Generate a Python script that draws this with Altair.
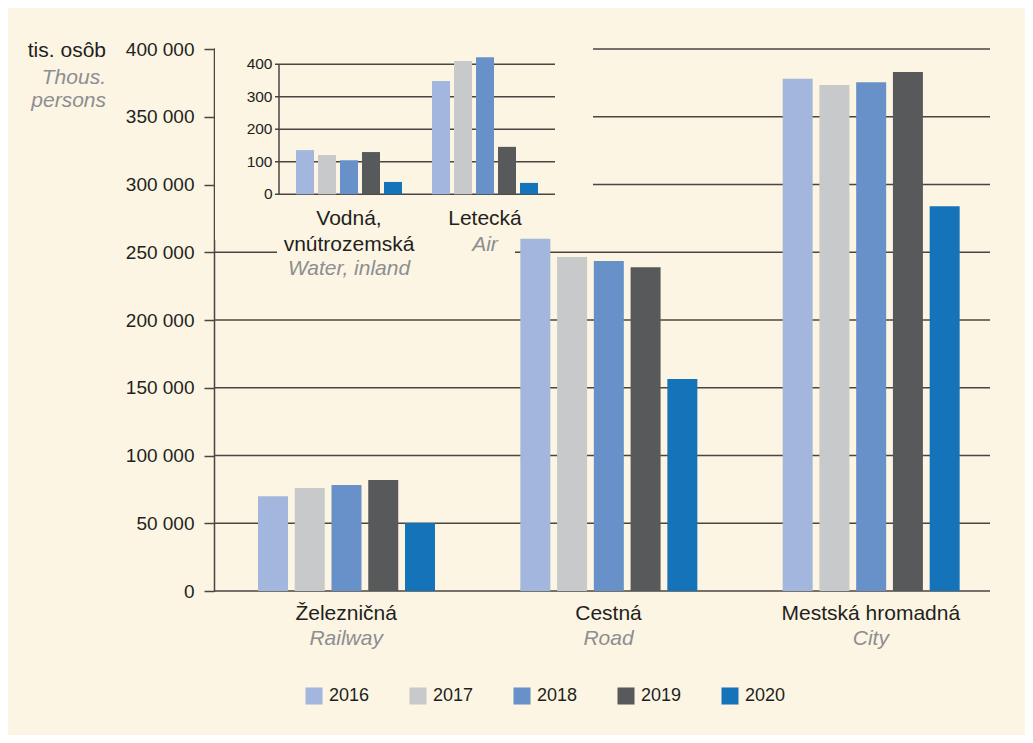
import altair as alt
import pandas as pd

BG = "#fcf5e3"
DARK = "#231f20"
GRAY = "#8c8e91"
GRID = "#4a4540"
FONT = "Liberation Sans"
LBL = 21

# ---- data ----
categories = ["Železničná", "Cestná", "Mestská hromadná"]
categories_en = ["Railway", "Road", "City"]
years = ["2016", "2017", "2018", "2019", "2020"]
railway = [70000, 76000, 78200, 82000, 50200]
road = [260000, 246500, 243500, 239000, 156500]
city = [378000, 373500, 375500, 383000, 284000]
main_ticks = [0, 50000, 100000, 150000, 200000, 250000, 300000, 350000, 400000]

inset_categories = ["Vodná,\nvnútrozemská", "Letecká"]
inset_categories_en = ["Water, inland", "Air"]
water = [136, 121, 105, 130, 38]
air = [349, 410, 422, 146, 35]
inset_ticks = [0, 100, 200, 300, 400]

colors = ["#a3b6dd", "#c8c9ca", "#6890c9", "#58595b", "#1473b9"]

# ---- tables ----
main_df = pd.DataFrame(
    [{"cat": c, "year": y, "value": v}
     for c, vals in zip(categories, [railway, road, city])
     for y, v in zip(years, vals)]
)
main_lab = pd.DataFrame({"cat": categories, "en": categories_en})
main_tick_df = pd.DataFrame({"v": main_ticks})
inset_df = pd.DataFrame(
    [{"cat": c, "year": y, "value": v}
     for c, vals in zip(inset_categories, [water, air])
     for y, v in zip(years, vals)]
)
inset_lab = pd.DataFrame({"cat": inset_categories, "en": inset_categories_en})
inset_tick_df = pd.DataFrame({"v": inset_ticks})
inset_axis_df = pd.DataFrame({"a": [inset_ticks[0]], "b": [inset_ticks[-1]]})
one = alt.Data(values=[{"k": 1}])

color_enc = alt.Color(
    "year:N",
    scale=alt.Scale(domain=years, range=colors),
    legend=alt.Legend(
        title=None, orient="none", legendX=91, legendY=638, direction="horizontal",
        columns=5, symbolType="square", symbolSize=290, symbolStrokeWidth=0,
        labelFontSize=18, labelColor=DARK, labelOffset=6, columnPadding=39,
        padding=0, labelFont=FONT,
    ),
)

# ---- main chart ----
mx = alt.Scale(domain=categories, range=[1, 788], paddingInner=0, paddingOuter=0)
my = alt.Scale(domain=[0, 400000], nice=False)

main_grid = alt.Chart(main_tick_df).mark_rule(color=GRID, strokeWidth=1.6).encode(
    y=alt.Y("v:Q", scale=my), x=alt.value(0), x2=alt.value(776)
)
cover1 = alt.Chart(one).mark_rect(color=BG).encode(
    x=alt.value(1), x2=alt.value(379), y=alt.value(-14), y2=alt.value(191)
)
cover2 = alt.Chart(one).mark_rect(color=BG).encode(
    x=alt.value(63), x2=alt.value(301), y=alt.value(191), y2=alt.value(212)
)

main_bars = alt.Chart(main_df).mark_bar().encode(
    x=alt.X("cat:N", sort=categories, scale=mx,
            axis=alt.Axis(title=None, labelFontSize=LBL, labelColor=DARK, ticks=False,
                          domain=False, labelPadding=28, labelAngle=0,
                          labelBaseline="alphabetic", labelFont=FONT)),
    xOffset=alt.XOffset("year:N", sort=years,
                        scale=alt.Scale(domain=years, range=[43, 220],
                                        paddingInner=0.184, paddingOuter=0)),
    y=alt.Y("value:Q", scale=my,
            axis=alt.Axis(values=main_ticks, title=None, grid=False,
                          domainColor=GRID, domainWidth=1.5,
                          tickColor=GRID, tickWidth=1.5, tickSize=10, labelPadding=10,
                          labelFontSize=19, labelColor=DARK, labelFont=FONT,
                          labelExpr="replace(format(datum.value, ','), ',', ' ')")),
    color=color_enc,
)

main_en = alt.Chart(main_lab).mark_text(
    fontSize=LBL, fontStyle="italic", color=GRAY, baseline="alphabetic", font=FONT
).encode(
    x=alt.X("cat:N", sort=categories, scale=mx),
    y=alt.value(596),
    text="en:N",
)

ytitle = alt.Chart(one).mark_text(
    text="tis. osôb", fontSize=LBL, color=DARK, align="right", baseline="alphabetic", font=FONT
).encode(x=alt.value(-108), y=alt.value(7.5))
ytitle_en = alt.Chart(one).mark_text(
    text="Thous.\npersons", lineBreak="\n", lineHeight=22.5, fontSize=LBL, fontStyle="italic",
    color=GRAY, align="right", baseline="alphabetic", font=FONT
).encode(x=alt.value(-108), y=alt.value(35.3))

main = alt.layer(main_grid, cover1, cover2, main_bars, main_en, ytitle, ytitle_en)

# ---- inset chart ----
ix = alt.Scale(domain=inset_categories, range=[67, 339], paddingInner=0, paddingOuter=0)
iy = alt.Scale(domain=[0, 400], range=[145.3, 15.3], nice=False)

inset_grid = alt.Chart(inset_tick_df).mark_rule(color=GRID, strokeWidth=1.5).encode(
    y=alt.Y("v:Q", scale=iy, axis=None), x=alt.value(61), x2=alt.value(341)
)
inset_axis = alt.Chart(inset_axis_df).mark_rule(color=GRID, strokeWidth=1.5).encode(
    y=alt.Y("a:Q", scale=iy, axis=None), y2="b:Q", x=alt.value(65)
)
inset_ticklab = alt.Chart(inset_tick_df).mark_text(
    fontSize=15.5, color=DARK, align="right", baseline="middle", font=FONT
).encode(y=alt.Y("v:Q", scale=iy, axis=None), x=alt.value(58.5), text="v:Q")
inset_bars = alt.Chart(inset_df).mark_bar().encode(
    x=alt.X("cat:N", sort=inset_categories, scale=ix, axis=None),
    xOffset=alt.XOffset("year:N", sort=years,
                        scale=alt.Scale(domain=years, range=[15, 121],
                                        paddingInner=0.182, paddingOuter=0)),
    y=alt.Y("value:Q", scale=iy, axis=None),
    color=alt.Color("year:N", scale=alt.Scale(domain=years, range=colors), legend=None),
)
inset_lab_sk = alt.Chart(inset_lab).mark_text(
    fontSize=LBL, color=DARK, baseline="alphabetic", lineBreak="\n", lineHeight=25.7, font=FONT
).encode(x=alt.X("cat:N", sort=inset_categories, scale=ix, axis=None), y=alt.value(176), text="cat:N")
inset_en_water = alt.Chart(inset_lab).transform_filter(
    alt.datum.en == inset_categories_en[0]
).mark_text(fontSize=LBL, fontStyle="italic", color=GRAY, baseline="alphabetic", font=FONT).encode(
    x=alt.X("cat:N", sort=inset_categories, scale=ix, axis=None), y=alt.value(226), text="en:N"
)
inset_en_air = alt.Chart(inset_lab).transform_filter(
    alt.datum.en == inset_categories_en[1]
).mark_text(fontSize=LBL, fontStyle="italic", color=GRAY, baseline="alphabetic", font=FONT).encode(
    x=alt.X("cat:N", sort=inset_categories, scale=ix, axis=None), y=alt.value(201.7), text="en:N"
)

inset = alt.layer(inset_grid, inset_axis, inset_ticklab, inset_bars,
                  inset_lab_sk, inset_en_water, inset_en_air)

chart = alt.layer(main, inset).resolve_scale(
    x="independent", y="independent", xOffset="independent"
).properties(
    width=776, height=542,
    autosize=alt.AutoSizeParams(type="none"),
    padding={"left": 206, "top": 41, "right": 35, "bottom": 144},
    background=BG,
).configure(font=FONT).configure_view(stroke=None)

chart.save("out.html", embed_options={"renderer": "svg", "actions": False})
